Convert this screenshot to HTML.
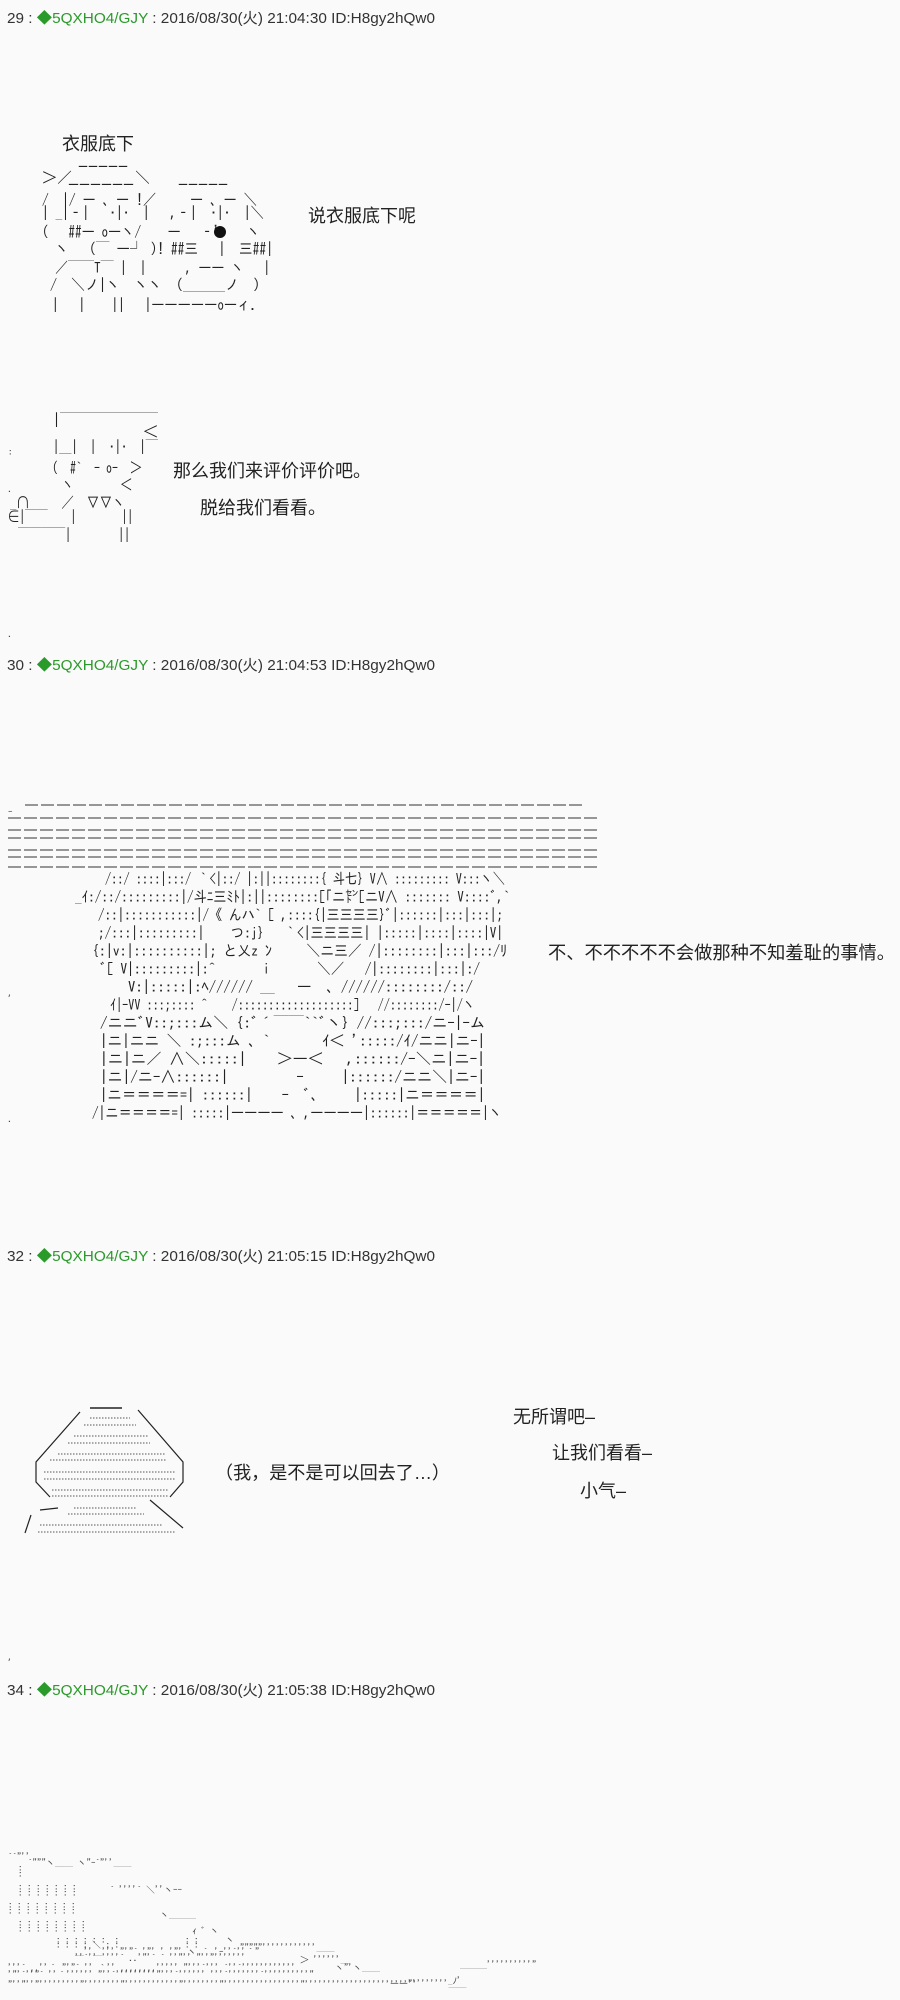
<!DOCTYPE html>
<html><head><meta charset="utf-8"><style>
html,body{margin:0;padding:0;background:#fafafa;}
svg{display:block}
.h{font-family:"Liberation Sans","Noto Sans CJK JP",sans-serif;font-size:15px;fill:#333}
.g{fill:#2a9a2a}
.t{font-family:"Liberation Sans","Noto Sans CJK SC",sans-serif;font-size:18px;fill:#222}
.a{font-family:"IPAGothic","Noto Sans CJK JP",sans-serif;font-size:15px;fill:#222}
.s{font-family:"IPAGothic","Noto Sans CJK JP",sans-serif;font-size:9px;fill:#444}
</style></head><body>
<svg width="900" height="2000" viewBox="0 0 900 2000" xmlns="http://www.w3.org/2000/svg" xml:space="preserve">
<text class="h" x="7" y="23" textLength="428" lengthAdjust="spacingAndGlyphs">29 : <tspan class="g">◆5QXHO4/GJY</tspan> : 2016/08/30(火) 21:04:30 ID:H8gy2hQw0</text>
<text class="h" x="7" y="670" textLength="428" lengthAdjust="spacingAndGlyphs">30 : <tspan class="g">◆5QXHO4/GJY</tspan> : 2016/08/30(火) 21:04:53 ID:H8gy2hQw0</text>
<text class="h" x="7" y="1261" textLength="428" lengthAdjust="spacingAndGlyphs">32 : <tspan class="g">◆5QXHO4/GJY</tspan> : 2016/08/30(火) 21:05:15 ID:H8gy2hQw0</text>
<text class="h" x="7" y="1695" textLength="428" lengthAdjust="spacingAndGlyphs">34 : <tspan class="g">◆5QXHO4/GJY</tspan> : 2016/08/30(火) 21:05:38 ID:H8gy2hQw0</text>

<text class="t" x="62" y="150">衣服底下</text>
<text class="t" x="308" y="222">说衣服底下呢</text>
<g class="a">
<text x="78" y="172" textLength="50" lengthAdjust="spacingAndGlyphs">―――――</text>
<text x="42" y="183">＞／</text><text x="135" y="183">＼</text>
<text x="68" y="190" textLength="66" lengthAdjust="spacingAndGlyphs">――――――</text>
<text x="178" y="190" textLength="50" lengthAdjust="spacingAndGlyphs">―――――</text>
<text x="42" y="205" textLength="215" lengthAdjust="spacingAndGlyphs">/　|/ ー 、ー !／　 　ー 、ー ＼</text>
<text x="42" y="218" textLength="222" lengthAdjust="spacingAndGlyphs">| _|‐|　 ･|･　|　 ,‐|　･|･　|＼</text>
<text x="42" y="237" textLength="218" lengthAdjust="spacingAndGlyphs">(　 ##― o―ヽ/　　― 　‐'　　ヽ</text>
<text x="55" y="254" textLength="218" lengthAdjust="spacingAndGlyphs">ヽ　 (￣ ―┘ )! ##三　 |　三##|</text>
<text x="55" y="273" textLength="215" lengthAdjust="spacingAndGlyphs">／￣￣T￣ |　|　　　, ―― ヽ　 |</text>
<text x="50" y="290" textLength="210" lengthAdjust="spacingAndGlyphs">/　＼ノ|ヽ　ヽヽ　(＿＿＿ノ　)</text>
<text x="52" y="310" textLength="205" lengthAdjust="spacingAndGlyphs">|　 |　　||　 |―――――o―ィ.</text>
</g>
<circle cx="220" cy="232" r="6" fill="#111"/>

<text class="t" x="173" y="477">那么我们来评价评价吧。</text>
<text class="t" x="200" y="514">脱给我们看看。</text>
<g class="a">
<text x="53" y="425" textLength="105" lengthAdjust="spacingAndGlyphs">|￣￣￣￣￣￣￣</text>
<text x="143" y="437">＜</text>
<text x="53" y="452" textLength="105" lengthAdjust="spacingAndGlyphs">|＿|　|　･|･　|￣</text>
<text x="52" y="473" textLength="90" lengthAdjust="spacingAndGlyphs">(　#`　- o-　＞</text>
<text x="62" y="490" textLength="70" lengthAdjust="spacingAndGlyphs">ヽ　　　　＜</text>
<text x="10" y="508" textLength="115" lengthAdjust="spacingAndGlyphs">_∩　　 ／　▽▽ヽ</text>
<text x="8" y="522" textLength="125" lengthAdjust="spacingAndGlyphs">∈|￣￣　　|　　　　||</text>
<text x="18" y="540" textLength="112" lengthAdjust="spacingAndGlyphs">￣￣￣￣|　　　　||</text>
</g>
<g class="s"><text x="8" y="455">:</text><text x="8" y="492">.</text><text x="8" y="637">.</text></g>

<g stroke="#333" stroke-width="1" fill="none">
<line x1="25" y1="805" x2="585" y2="805" stroke-dasharray="13 3"/>
<line x1="8" y1="818" x2="600" y2="818" stroke-dasharray="13 3"/>
<line x1="8" y1="830" x2="600" y2="830" stroke-dasharray="13 3"/>
<line x1="8" y1="838" x2="600" y2="838" stroke-dasharray="13 3"/>
<line x1="8" y1="850" x2="600" y2="850" stroke-dasharray="13 3"/>
<line x1="8" y1="857" x2="600" y2="857" stroke-dasharray="13 3"/>
<line x1="8" y1="867" x2="600" y2="867" stroke-dasharray="13 3"/>
</g>
<g class="a">
<text x="105" y="884" textLength="400" lengthAdjust="spacingAndGlyphs">/::/ ::::|:::/ ｀<|::/ |:||::::::::{ 斗七} V∧ ::::::::: V:::ヽ＼</text>
<text x="75" y="902" textLength="435" lengthAdjust="spacingAndGlyphs">_ｲ:/::/:::::::::|/斗ﾆ三ﾐﾄ|:||::::::::[｢ニ㌣[ニV∧ ::::::: V::::ﾞ,`</text>
<text x="98" y="920" textLength="405" lengthAdjust="spacingAndGlyphs">/::|:::::::::::|/《 んハ` [ ,::::{|三三三三}ﾞ|::::::|:::|:::|;</text>
<text x="98" y="938" textLength="405" lengthAdjust="spacingAndGlyphs">;/:::|:::::::::| 　 つ:j}　 ｀<|三三三三| |:::::|::::|::::|V|</text>
<text x="92" y="956" textLength="415" lengthAdjust="spacingAndGlyphs">{:|v:|::::::::::|; と乂z ﾝ　　 ＼ニ三／ /|::::::::|:::|:::/ﾘ</text>
<text x="100" y="974" textLength="380" lengthAdjust="spacingAndGlyphs">ﾞ[ V|:::::::::|:^　　　 i　　　 ＼／　 /|::::::::|:::|:/</text>
<text x="128" y="992" textLength="345" lengthAdjust="spacingAndGlyphs">V:|:::::|:ﾍ////// ＿　 ―　、//////::::::::/::/</text>
<text x="110" y="1010" textLength="365" lengthAdjust="spacingAndGlyphs">ｲ|-VV :::;:::: ^　　/:::::::::::::::::::] 　//::::::::/-|/ヽ</text>
<text x="100" y="1028" textLength="385" lengthAdjust="spacingAndGlyphs">/ニニﾞV::;:::ム＼ {:ﾞ´￣￣``ﾞヽ} //:::;:::/ニ-|-ム</text>
<text x="100" y="1046" textLength="385" lengthAdjust="spacingAndGlyphs">|ニ|ニニ ＼ :;:::ム 、` 　　　ｲ＜ ':::::/ｲ/ニニ|ニ-|</text>
<text x="100" y="1064" textLength="385" lengthAdjust="spacingAndGlyphs">|ニ|ニ／ ∧＼:::::|　　＞―＜　 ,::::::/-＼ニ|ニ-|</text>
<text x="100" y="1082" textLength="385" lengthAdjust="spacingAndGlyphs">|ニ|/ニ-∧::::::|　　　　 -　　 |::::::/ニニ＼|ニ-|</text>
<text x="100" y="1100" textLength="385" lengthAdjust="spacingAndGlyphs">|ニ＝＝＝＝=| ::::::|　　-　ﾞ､　　 |:::::|ニ＝＝＝＝|</text>
<text x="92" y="1118" textLength="410" lengthAdjust="spacingAndGlyphs">/|ニ＝＝＝＝=| :::::|―――― 、,――――|::::::|＝＝＝＝＝|ヽ</text>
</g>
<g class="s"><text x="8" y="815">-</text><text x="8" y="996">,</text><text x="8" y="1122">.</text></g>
<text class="t" x="548" y="959" textLength="347" lengthAdjust="spacingAndGlyphs">不、不不不不不会做那种不知羞耻的事情。</text>

<g stroke="#222" stroke-width="1.2" fill="none">
<line x1="90" y1="1408" x2="122" y2="1408" stroke-width="1.6"/>
<polyline points="80,1412 36,1462 36,1482 50,1497"/>
<polyline points="138,1410 183,1462 183,1482 170,1497"/>
<line x1="40" y1="1510" x2="58" y2="1508"/>
<line x1="31" y1="1515" x2="25" y2="1533"/>
<line x1="150" y1="1500" x2="183" y2="1528"/>
</g>
<g stroke="#555" stroke-width="1" stroke-dasharray="1.5 1.5">
<line x1="90" y1="1418" x2="130" y2="1418"/>
<line x1="84" y1="1425" x2="136" y2="1425"/>
<line x1="74" y1="1436" x2="148" y2="1436"/>
<line x1="68" y1="1443" x2="150" y2="1443"/>
<line x1="58" y1="1454" x2="165" y2="1454"/>
<line x1="50" y1="1460" x2="167" y2="1460"/>
<line x1="44" y1="1472" x2="176" y2="1472"/>
<line x1="44" y1="1479" x2="176" y2="1479"/>
<line x1="52" y1="1490" x2="168" y2="1490"/>
<line x1="52" y1="1496" x2="168" y2="1496"/>
<line x1="74" y1="1508" x2="136" y2="1508"/>
<line x1="68" y1="1514" x2="144" y2="1514"/>
<line x1="40" y1="1525" x2="162" y2="1525"/>
<line x1="38" y1="1532" x2="176" y2="1532"/>
</g>
<text class="t" x="215" y="1479" textLength="235" lengthAdjust="spacingAndGlyphs">（我，是不是可以回去了…）</text>
<text class="t" x="513" y="1423">无所谓吧–</text>
<text class="t" x="552" y="1459">让我们看看–</text>
<text class="t" x="580" y="1497">小气–</text>
<g class="s"><text x="8" y="1660">,</text></g>

<g class="s">
<text x="8" y="1860">``"''</text>
<text x="28" y="1866">`"""ヽ__＿ ヽ"-`"''＿＿</text>
<text x="18" y="1871">:</text><text x="18" y="1877">:</text>
<text x="18" y="1890">: : : : : : :</text><text x="110" y="1893">` ''''` ＼''ヽ--</text>
<text x="18" y="1896">: : : : : : :</text>
<text x="8" y="1908">: : : : : : : :</text>
<text x="8" y="1914">: : : : : : : :</text><text x="160" y="1918">ヽ＿＿＿</text>
<text x="18" y="1926">: : : : : : : :</text>
<text x="18" y="1932">: : : : : : : :</text><text x="192" y="1934">ｨ ﾞ ヽ</text>
<text x="56" y="1943">: : : : : :　:</text><text x="185" y="1943">: :　　　ヽ</text>
<text x="56" y="1948">: : : : ＼ : :</text><text x="185" y="1948">: :</text><text x="240" y="1951">"""""''''''''''''＿＿</text>
<text x="75" y="1955">__''＿''' "'"`  '"' ' '"'  ヽ ´ '-''`''´"</text>
<text x="75" y="1961">''`'' ''''` ..'"'` ` ''"'' "''"'''''''</text><text x="300" y="1963">＞ ''''''＿</text>
<text x="8" y="1971">'''` ,,''´ "'"` '' ｀'' ,,,,,,,,''''' "'''`''' `''`''''''''''''</text><text x="335" y="1971">ヽ"'ヽ＿＿</text><text x="460" y="1968">＿＿＿''''''''''"</text>
<text x="8" y="1978">'"'`''"` ''´'''''' "''`'''''''''"'''`'''''' '''`'''''''`''''''''''"</text><text x="448" y="1984">_ﾉ'</text>
<text x="8" y="1988">"''"''"'''''''''"''''''''"''''''''''''"''''''''"'''''''''''''''''"'''''''''''''''''''''''''</text><text x="390" y="1987">――"''''''''＿＿</text>
</g>
</svg>
</body></html>
